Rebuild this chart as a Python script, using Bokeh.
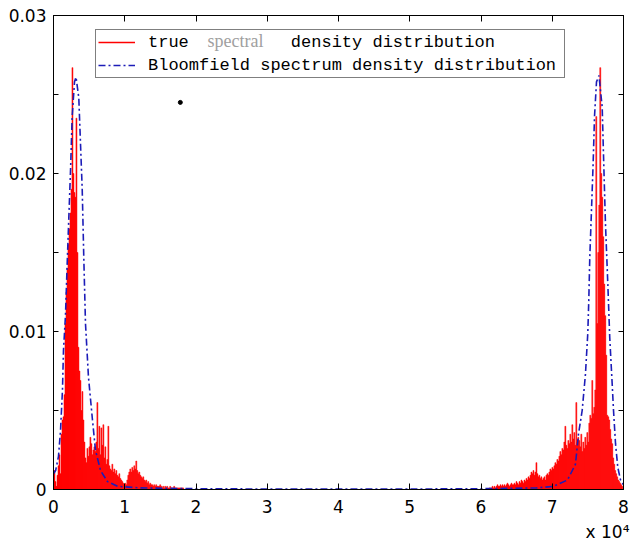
import numpy as np
from bokeh.plotting import figure
from bokeh.models import (Range1d, FixedTicker, LinearAxis, Legend, LegendItem,
                          Title, ColumnDataSource)
from bokeh.embed import file_html
from bokeh.resources import INLINE

# ---------------- data ----------------
BIN_STEP = 140          # frequency bin width of the periodogram bars
left_start = 0          # first bin of the low-frequency cluster
right_start = 61200     # first bin of the high-frequency cluster

left_true = [
    0.0003, 0.0012, 0.0005, 0.0002, 0.0009, 0.0015, 0.0022, 0.0010, 0.0035, 0.0044,
    0.0046, 0.0060, 0.0105, 0.0125, 0.0140, 0.0155, 0.0165, 0.0175, 0.0190, 0.0267,
    0.0200, 0.0188, 0.0185, 0.0235, 0.0150, 0.0090, 0.0075, 0.0069, 0.0050, 0.0062,
    0.0044, 0.0030, 0.0020, 0.0017, 0.0026, 0.0021, 0.0027, 0.0033, 0.0029, 0.0022,
    0.0025, 0.0027, 0.0024, 0.0030, 0.0055, 0.0026, 0.0040, 0.0022, 0.0039, 0.0028,
    0.0041, 0.0020, 0.0027, 0.0016, 0.0019, 0.0040, 0.0015, 0.0013, 0.0012, 0.0016,
    0.0011, 0.0013, 0.0010, 0.0012, 0.0009, 0.0008, 0.0010, 0.0007, 0.0006, 0.0005,
    0.0004, 0.0003, 0.0004, 0.0003, 0.0006, 0.0009, 0.0011, 0.0013, 0.0011, 0.0014,
    0.0012, 0.0015, 0.0013, 0.0018, 0.0012, 0.0010, 0.0011, 0.0009, 0.0008, 0.0007,
    0.0008, 0.0006, 0.0005, 0.0006, 0.0004, 0.0005, 0.0003, 0.0004, 0.0003, 0.0003,
    0.0002, 0.0003, 0.0002, 0.0003, 0.0002, 0.0002, 0.0002, 0.0003, 0.0002, 0.0001,
    0.0002, 0.0001, 0.0002, 0.0001, 0.0002, 0.0001, 0.0001, 0.0002, 0.0001, 0.0001,
    0.0001, 0.0002, 0.0001, 0.0001, 0.0001, 0.0001, 0.0001, 0.0001, 0.0001, 0.0001,
    0.0001,
]

right_true = [
    0.0001, 0.0001, 0.0001, 0.0002, 0.0001, 0.0002, 0.0001, 0.0002, 0.0003, 0.0002,
    0.0002, 0.0003, 0.0002, 0.0003, 0.0002, 0.0003, 0.0002, 0.0003, 0.0004, 0.0003,
    0.0002, 0.0003, 0.0004, 0.0003, 0.0003, 0.0004, 0.0003, 0.0005, 0.0004, 0.0003,
    0.0005, 0.0004, 0.0006, 0.0005, 0.0004, 0.0006, 0.0005, 0.0007, 0.0006, 0.0008,
    0.0007, 0.0009, 0.0011, 0.0010, 0.0012, 0.0009, 0.0011, 0.0017, 0.0010, 0.0008,
    0.0009, 0.0007, 0.0008, 0.0006, 0.0007, 0.0008, 0.0006, 0.0009, 0.0010, 0.0009,
    0.0011, 0.0013, 0.0012, 0.0014, 0.0013, 0.0015, 0.0017, 0.0016, 0.0019, 0.0018,
    0.0021, 0.0024, 0.0022, 0.0026, 0.0025, 0.0030, 0.0040, 0.0028, 0.0026, 0.0031,
    0.0029, 0.0035, 0.0030, 0.0041, 0.0032, 0.0036, 0.0028, 0.0055, 0.0030, 0.0033,
    0.0031, 0.0027, 0.0035, 0.0024, 0.0030, 0.0026, 0.0033, 0.0028, 0.0036, 0.0030,
    0.0042, 0.0047, 0.0045, 0.0069, 0.0048, 0.0052, 0.0063, 0.0236, 0.0105, 0.0150,
    0.0180, 0.0267, 0.0200, 0.0185, 0.0160, 0.0130, 0.0110, 0.0085, 0.0047, 0.0046,
    0.0044, 0.0038, 0.0032, 0.0029, 0.0020, 0.0016, 0.0012, 0.0010, 0.0008, 0.0006,
    0.0005, 0.0004, 0.0003, 0.0002,
]

bloom_freq = [0, 300, 700, 980, 1260, 1400, 1680, 1920, 2150, 2390, 2620, 2950, 3160,
              3550, 3790, 4030, 4250, 4490, 4910, 5470, 5890, 6600, 7580, 8980, 12200,
              20000, 30000, 40000, 50000, 60000, 67800, 70175, 72140, 73260, 73680,
              74200, 74660, 74990, 75130, 75270, 75470, 75750, 75930, 76210, 76560,
              77010, 77230, 77470, 77800, 78070, 78410, 78600, 78880, 79200, 79580, 80000]
bloom_dens = [0.0010, 0.0012, 0.0021, 0.0037, 0.0063, 0.0088, 0.0110, 0.0143, 0.0172,
              0.0202, 0.0236, 0.0258, 0.0261, 0.0248, 0.0219, 0.0190, 0.0147, 0.0105,
              0.0071, 0.0044, 0.0025, 0.0012, 0.0005, 0.0002, 0.0001, 0.00005, 0.00003,
              0.00003, 0.00003, 0.00005, 0.0001, 0.0002, 0.0006, 0.0016, 0.0035, 0.0050,
              0.0073, 0.0099, 0.0120, 0.0147, 0.0172, 0.0208, 0.0236, 0.0258, 0.0262,
              0.0242, 0.0206, 0.0168, 0.0130, 0.0096, 0.0067, 0.0050, 0.0029, 0.0014,
              0.0006, 0.0003]

stray_x = [17800]
stray_y = [0.0245]

x_ticks = [0, 10000, 20000, 30000, 40000, 50000, 60000, 70000, 80000]
x_tick_labels = ["0", "1", "2", "3", "4", "5", "6", "7", "8"]
y_ticks = [0, 0.01, 0.02, 0.03]
y_tick_labels = ["0", "0.01", "0.02", "0.03"]
y_minor_ticks = [0.005, 0.015, 0.025]

legend_labels = ["true" + "\u00a0" * 10 + "density distribution",
                 "Bloomfield spectrum density distribution"]
gray_word = "spectral"
gray_word_x = [21614]
gray_word_y = [0.02840]
exponent_text = "x 10\u2074"

# ---------------- figure ----------------
p = figure(width=634, height=545, output_backend="svg", toolbar_location=None,
           x_range=Range1d(0, 80000), y_range=Range1d(0, 0.03),
           min_border_left=53, min_border_right=11, min_border_top=15,
           min_border_bottom=56, background_fill_color="white",
           border_fill_color="white")
p.xgrid.visible = False
p.ygrid.visible = False
p.outline_line_color = "black"
p.outline_line_width = 1
p.outline_line_alpha = 1

TICK_FONT = "DejaVu Sans"

xa = p.xaxis[0]
xa.ticker = FixedTicker(ticks=x_ticks)
xa.major_label_overrides = dict(zip(x_ticks, x_tick_labels))
xa.major_tick_in = 6
xa.major_tick_out = 0
xa.minor_tick_in = 0
xa.minor_tick_out = 0
xa.major_label_standoff = 10
xa.major_label_text_font = TICK_FONT
xa.major_label_text_font_size = "17px"
xa.major_label_text_color = "black"
xa.axis_line_color = "black"

ya = p.yaxis[0]
ya.ticker = FixedTicker(ticks=y_ticks, minor_ticks=y_minor_ticks)
ya.major_label_overrides = dict(zip(y_ticks, y_tick_labels))
ya.major_tick_in = 5
ya.major_tick_out = 0
ya.minor_tick_in = 5
ya.minor_tick_out = 0
ya.minor_tick_line_color = "black"
ya.major_label_standoff = 7
ya.major_label_text_font = TICK_FONT
ya.major_label_text_font_size = "17px"
ya.major_label_text_color = "black"
ya.axis_line_color = "black"

top_axis = LinearAxis(ticker=FixedTicker(ticks=x_ticks),
                      major_label_overrides={t: "" for t in x_ticks},
                      major_label_text_font_size="1px", major_label_standoff=0,
                      major_tick_in=6, major_tick_out=0, minor_tick_in=0,
                      minor_tick_out=0, axis_line_color="black")
p.add_layout(top_axis, "above")
right_axis = LinearAxis(ticker=FixedTicker(ticks=y_ticks, minor_ticks=y_minor_ticks),
                        major_label_overrides={t: "" for t in y_ticks},
                        major_label_text_font_size="1px", major_label_standoff=0,
                        major_tick_in=5, major_tick_out=0, minor_tick_in=5,
                        minor_tick_out=0, minor_tick_line_color="black",
                        axis_line_color="black")
p.add_layout(right_axis, "right")

p.add_layout(Title(text=exponent_text, align="right", offset=-6, standoff=8,
                   text_font=TICK_FONT, text_font_size="17px",
                   text_font_style="normal", text_color="black"), "below")

# ---------------- marks ----------------
left_x = left_start + np.arange(len(left_true)) * BIN_STEP
right_x = right_start + np.arange(len(right_true)) * BIN_STEP
true_src = ColumnDataSource(data=dict(
    f=np.concatenate([left_x, right_x]),
    d=np.array(left_true + right_true)))
p.vbar(x="f", top="d", bottom=0, width=BIN_STEP, source=true_src,
       fill_color="#ff0000", line_color="#ff0000", line_width=0.5)

blue = p.line(bloom_freq, bloom_dens, line_color="#1c1cb8", line_width=1.6,
              line_dash="7 3 2 3")

p.scatter(stray_x, stray_y, marker="circle", size=4, fill_color="black",
          line_color="black")

# legend-only sample for the red series (one missing point, draws nothing)
red_leg = p.line(x=[np.nan], y=[np.nan], line_color="#ff0000", line_width=1.6)

p.text(x=gray_word_x, y=gray_word_y, text=[gray_word], text_font="Liberation Serif",
       text_font_size="18px", text_color="#a0a0a0", text_baseline="middle")

legend = Legend(items=[LegendItem(label=legend_labels[0], renderers=[red_leg]),
                       LegendItem(label=legend_labels[1], renderers=[blue])],
                location=(42, 411), margin=0, padding=2, spacing=3,
                label_height=20, glyph_height=20, glyph_width=37,
                label_standoff=13, label_width=414,
                label_text_font="Liberation Mono", label_text_font_size="17px",
                label_text_color="black", border_line_color="black",
                border_line_width=1, background_fill_alpha=0)
p.add_layout(legend)

open("out.html", "w").write(file_html(p, INLINE))
